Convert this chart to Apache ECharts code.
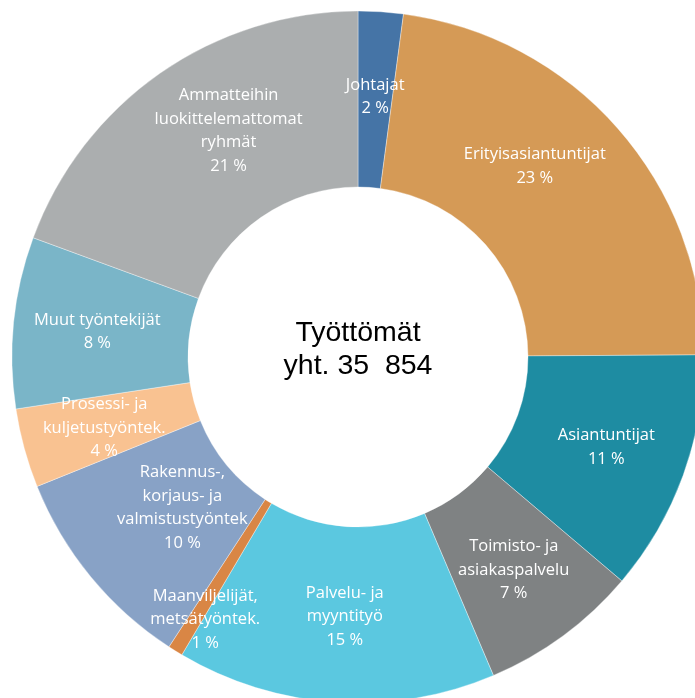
<!DOCTYPE html>
<html>
<head>
<meta charset="utf-8">
<script src="https://cdn.jsdelivr.net/npm/echarts@6/dist/echarts.min.js"></script>
<style>
html,body{margin:0;padding:0;background:#fff;}
#chart{width:695px;height:698px;}
</style>
</head>
<body>
<div id="chart"></div>
<script>
// Data
const categories = [
  'Johtajat',
  'Erityisasiantuntijat',
  'Asiantuntijat',
  'Toimisto- ja\nasiakaspalvelu',
  'Palvelu- ja\nmyyntityö',
  'Maanviljelijät,\nmetsätyöntek.',
  'Rakennus-,\nkorjaus- ja\nvalmistustyöntek',
  'Prosessi- ja\nkuljetustyöntek.',
  'Muut työntekijät',
  'Ammatteihin\nluokittelemattomat\nryhmät'
];
const shares = [2.1, 22.8, 11.3, 7.4, 14.9, 0.7, 9.7, 3.7, 8.0, 19.4];
const percentLabels = ['2 %', '23 %', '11 %', '7 %', '15 %', '1 %', '10 %', '4 %', '8 %', '21 %'];
const centerTitle = 'Työttömät';
const centerTotal = 'yht. 35  854';

// Styling / layout (not data)
const colors = ['#4574a6', '#d59a56', '#1e8ca2', '#7f8283', '#5bc8e0', '#d98645', '#88a2c6', '#f9c291', '#7ab5c8', '#abaeaf'];
const labelOffsets = [[0,0],[-19,-18],[3,1],[1,3],[4,-1],[-15,41],[26,-15],[-2,2],[-1,1],[20,-12]];

const chart = echarts.init(document.getElementById('chart'), null, {renderer: 'canvas'});
const data = categories.map((c, i) => ({
  name: c,
  value: shares[i],
  itemStyle: {color: colors[i]},
  label: {offset: labelOffsets[i], formatter: c + '\n' + percentLabels[i]}
}));

chart.setOption({
  animation: false,
  series: [{
    type: 'pie',
    center: [358, 357],
    radius: [170, 346],
    startAngle: 90,
    clockwise: true,
    avoidLabelOverlap: false,
    minShowLabelAngle: 0,
    itemStyle: {borderColor: 'rgba(255,255,255,0.6)', borderWidth: 0.6},
    label: {
      show: true,
      position: 'inside',
      color: '#ffffff',
      fontFamily: 'Open Sans',
      fontSize: 16.5,
      lineHeight: 23.5,
      align: 'center',
      verticalAlign: 'middle',
      overflow: 'none'
    },
    labelLayout: {hideOverlap: false},
    labelLine: {show: false},
    emphasis: {disabled: true},
    data: data
  }],
  graphic: [{
    type: 'text',
    x: 358,
    y: 350,
    style: {
      text: centerTitle + '\n' + centerTotal,
      fill: '#000',
      font: '28.5px "Liberation Sans", Arial, sans-serif',
      lineHeight: 33,
      align: 'center',
      verticalAlign: 'middle'
    }
  }]
});
</script>
</body>
</html>
